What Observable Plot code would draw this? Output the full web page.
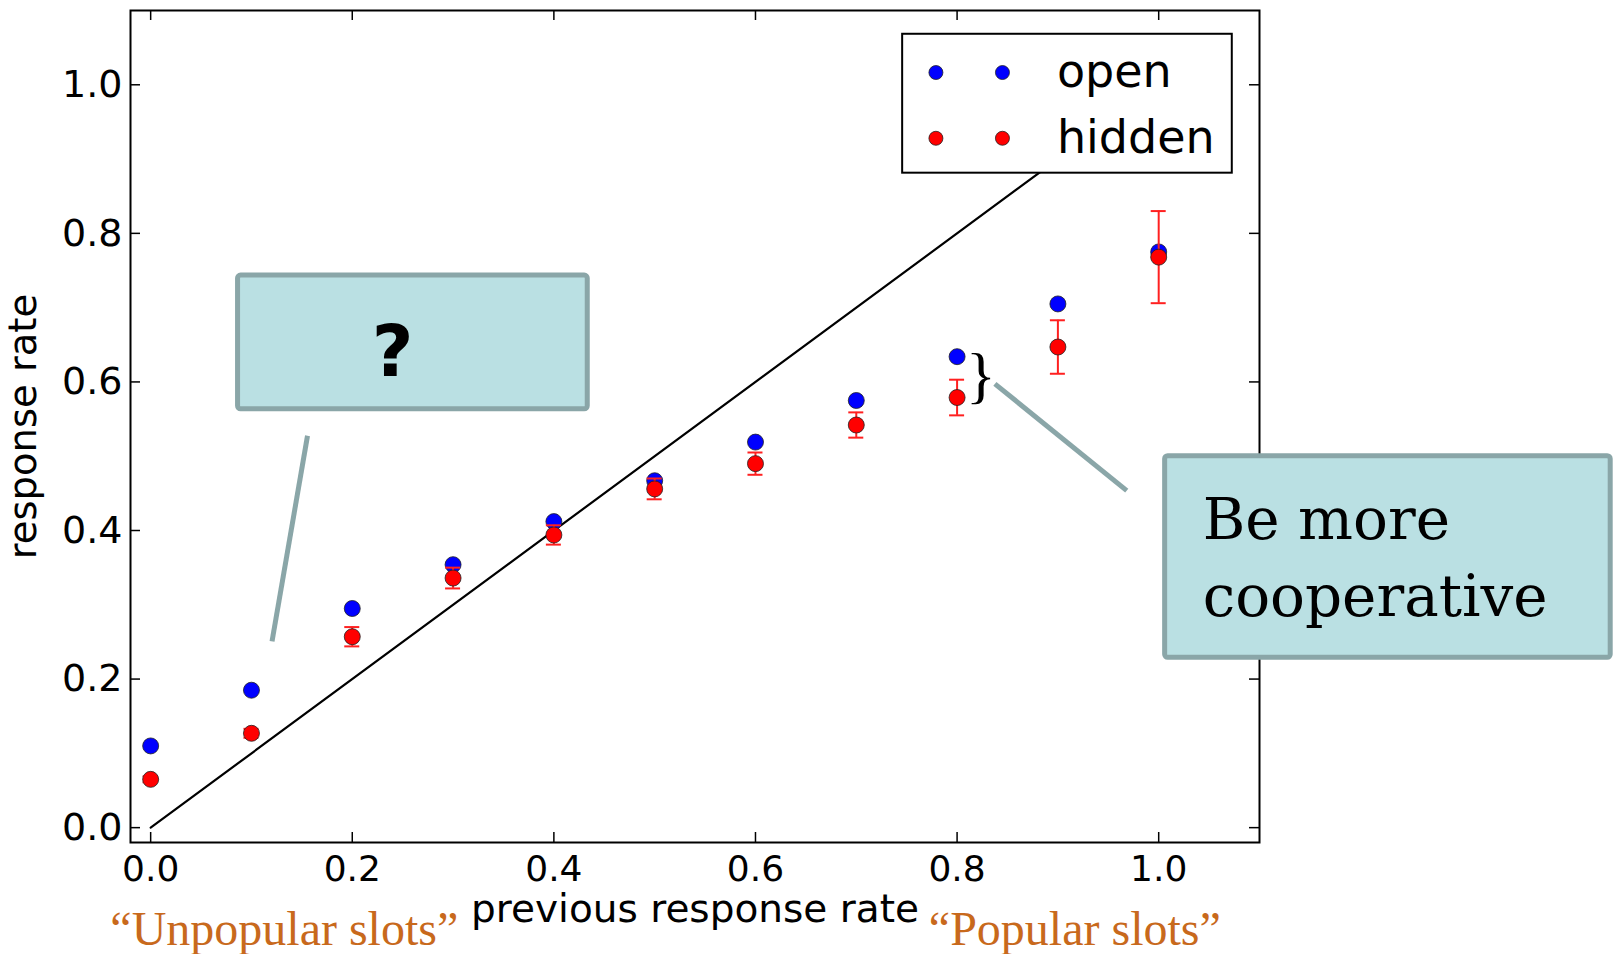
<!DOCTYPE html>
<html>
<head>
<meta charset="utf-8">
<script src="https://cdn.jsdelivr.net/npm/d3@7"></script>
<script src="https://cdn.jsdelivr.net/npm/@observablehq/plot@0.6"></script>
<style>
  html, body { margin: 0; padding: 0; background: #ffffff; }
  #chart svg { display: block; overflow: visible; }
</style>
</head>
<body>
<div id="chart"></div>
<script>
// ---- data ----
const prevRate = [0.0, 0.1, 0.2, 0.3, 0.4, 0.5, 0.6, 0.7, 0.8, 0.9, 1.0];
const openRate = [0.110, 0.185, 0.295, 0.354, 0.412, 0.467, 0.519, 0.575, 0.634, 0.705, 0.775];
const hiddenRate = [0.065, 0.127, 0.257, 0.336, 0.394, 0.456, 0.490, 0.542, 0.579, 0.647, 0.768];
const hiddenErr = [0.004, 0.006, 0.013, 0.014, 0.013, 0.014, 0.015, 0.017, 0.024, 0.036, 0.062];
const xTicks = [0.0, 0.2, 0.4, 0.6, 0.8, 1.0];
const yTicks = [0.0, 0.2, 0.4, 0.6, 0.8, 1.0];
const seriesNames = ["open", "hidden"];
const seriesColors = ["#0000ff", "#ff0000"];
const xLabel = "previous response rate";
const yLabel = "response rate";
const leftNote = "\u201CUnpopular slots\u201D";
const rightNote = "\u201CPopular slots\u201D";
const questionText = "?";
const adviceText = "Be more\ncooperative";

// ---- tables built from the arrays ----
const openData = prevRate.map((x, i) => ({x, y: openRate[i]}));
const hiddenData = prevRate.map((x, i) => ({x, y: hiddenRate[i], lo: hiddenRate[i] - hiddenErr[i], hi: hiddenRate[i] + hiddenErr[i]}));
const diagonal = [{x: 0, y: 0}, {x: 1, y: 1}];

// ---- annotation layout (data units) ----
const L = {
  legend: {x1: 0.746, x2: 1.073, y1: 0.881, y2: 1.068, mx: [0.779, 0.845], my: [1.0165, 0.928], tx: 0.899},
  qBox: {x1: 0.0867, x2: 0.4336, y1: 0.5631, y2: 0.7432, tx: 0.24, ty: 0.639},
  aBox: {x1: 1.0064, x2: 1.4484, y1: 0.2286, y2: 0.5, tx: 1.0436, ty: 0.2844},
  link1: {x1: 0.1556, y1: 0.5275, x2: 0.1204, y2: 0.2508},
  link2: {x1: 0.8375, y1: 0.5974, x2: 0.9683, y2: 0.4537},
  brace: {x: 0.8236, y: 0.608},
  yLabel: {x: -0.1259, y: 0.54}
};
const boxFill = "#bae0e3";
const boxStroke = "#8aa6a8";
const noteColor = "#c8691c";

const W = 1618, H = 954;
const mT = 10, mB = 112, mL = 130, mR = 359;
const innerH = H - mT - mB, innerW = W - mL - mR;
const tickLen = 10;

const legendRows = seriesNames.map((name, i) => ({name, color: seriesColors[i], y: L.legend.my[i]}));
const legendDots = legendRows.flatMap(r => L.legend.mx.map(x => ({x, y: r.y, color: r.color})));

const chart = Plot.plot({
  width: W,
  height: H,
  marginTop: mT,
  marginBottom: mB,
  marginLeft: mL,
  marginRight: mR,
  style: {fontFamily: "DejaVu Sans, sans-serif", background: "#ffffff", color: "#000000", overflow: "visible"},
  x: {domain: [-0.02, 1.1]},
  y: {domain: [-0.02, 1.1]},
  marks: [
    // frame and inward ticks on all four sides
    Plot.frame({stroke: "#000", strokeWidth: 2}),
    Plot.tickX(xTicks, {x: d => d, insetTop: innerH - tickLen, stroke: "#000", strokeWidth: 1.5}),
    Plot.tickX(xTicks, {x: d => d, insetBottom: innerH - tickLen, stroke: "#000", strokeWidth: 1.5}),
    Plot.tickY(yTicks, {y: d => d, insetRight: innerW - tickLen, stroke: "#000", strokeWidth: 1.5}),
    Plot.tickY(yTicks, {y: d => d, insetLeft: innerW - tickLen, stroke: "#000", strokeWidth: 1.5}),
    Plot.axisX(xTicks, {tickSize: 0, tickPadding: 13, tickFormat: d3.format(".1f"), fontSize: 36, label: null}),
    Plot.axisY(yTicks, {tickSize: 0, tickPadding: 8, tickFormat: d3.format(".1f"), fontSize: 38, label: null}),
    Plot.text([xLabel], {frameAnchor: "bottom", dy: 79, lineAnchor: "bottom", fontSize: 39, fill: "#000"}),
    Plot.text([yLabel], {x: () => L.yLabel.x, y: () => L.yLabel.y, rotate: -90, fontSize: 38.5, fill: "#000"}),
    // diagonal reference line
    Plot.line(diagonal, {x: "x", y: "y", stroke: "#000", strokeWidth: 2.2}),
    // callout connectors
    Plot.link([L.link1, L.link2], {x1: "x1", y1: "y1", x2: "x2", y2: "y2", stroke: boxStroke, strokeWidth: 5}),
    // callout boxes
    Plot.rect([L.qBox, L.aBox], {x1: "x1", x2: "x2", y1: "y1", y2: "y2", fill: boxFill, stroke: boxStroke, strokeWidth: 5, rx: 3}),
    Plot.text([questionText], {x: () => L.qBox.tx, y: () => L.qBox.ty, fontSize: 72, fontWeight: "bold", fill: "#000"}),
    Plot.text([adviceText], {x: () => L.aBox.tx, y: () => L.aBox.ty, textAnchor: "start", lineAnchor: "bottom", lineHeight: 1.33, fontSize: 58, fontFamily: "DejaVu Serif", fill: "#000"}),
    // data
    Plot.dot(openData, {x: "x", y: "y", r: 8, fill: seriesColors[0], stroke: "#222", strokeWidth: 0.8}),
    Plot.ruleX(hiddenData, {x: "x", y1: "lo", y2: "hi", stroke: "#ff2020", strokeWidth: 2}),
    Plot.ruleY(hiddenData, {y: "hi", x1: "x", x2: "x", insetLeft: -7.5, insetRight: -7.5, stroke: "#ff2020", strokeWidth: 2}),
    Plot.ruleY(hiddenData, {y: "lo", x1: "x", x2: "x", insetLeft: -7.5, insetRight: -7.5, stroke: "#ff2020", strokeWidth: 2}),
    Plot.dot(hiddenData, {x: "x", y: "y", r: 8, fill: seriesColors[1], stroke: "#222", strokeWidth: 0.8}),
    // legend
    Plot.rect([L.legend], {x1: "x1", x2: "x2", y1: "y1", y2: "y2", fill: "#fff", stroke: "#000", strokeWidth: 2}),
    Plot.dot(legendDots, {x: "x", y: "y", r: 7, fill: "color", stroke: "#222", strokeWidth: 0.8}),
    Plot.text(legendRows, {x: () => L.legend.tx, y: "y", text: "name", textAnchor: "start", fontSize: 46, fill: "#000"}),
    // brace
    Plot.text(["}"], {x: () => L.brace.x, y: () => L.brace.y, fontSize: 62, fontFamily: "Liberation Serif", fill: "#000"}),
    // notes under the axis
    Plot.text([leftNote], {x: () => -0.04, frameAnchor: "bottom", dy: 102, textAnchor: "start", lineAnchor: "bottom", fontSize: 48, fontFamily: "Liberation Serif", fill: noteColor}),
    Plot.text([rightNote], {x: () => 0.772, frameAnchor: "bottom", dy: 102, textAnchor: "start", lineAnchor: "bottom", fontSize: 48, fontFamily: "Liberation Serif", fill: noteColor})
  ]
});
document.getElementById("chart").appendChild(chart);
</script>
</body>
</html>
